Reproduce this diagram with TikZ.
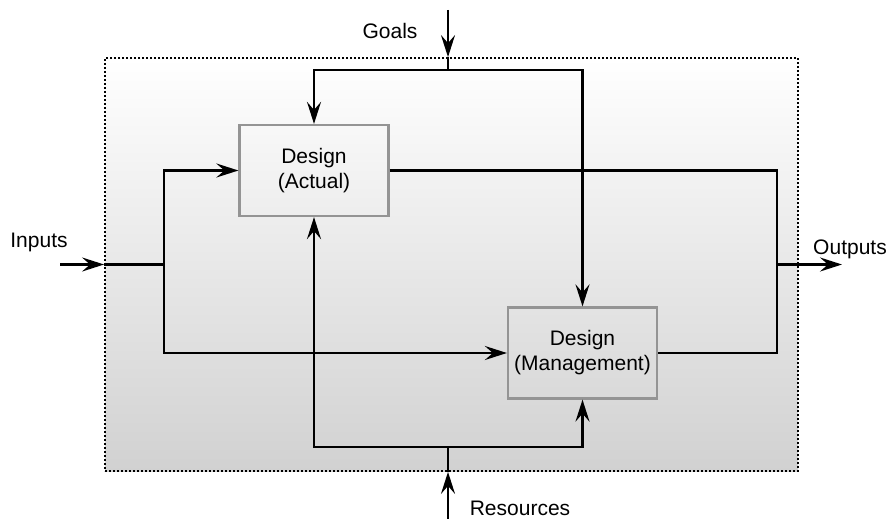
\documentclass[tikz,border=0pt]{standalone}
\usepackage{fontspec}
\setmainfont{Liberation Sans}
\usetikzlibrary{arrows.meta,positioning}

\begin{document}
\begin{tikzpicture}[x=1pt, y=-1pt]
% STYLES
\tikzset{%
    design/.style={%
    rectangle,
    draw=black!42,
    line width=2.2pt,
    minimum width=149pt,
    minimum height=91pt,
    inner sep=0pt,
    align=center,
    font=\fontsize{21}{25}\selectfont}
    }
\tikzset{%
    sysbox/.style={%
    rectangle,
    draw=black,
    line width=1.8pt,
    dash pattern=on 2pt off 2pt,
    top color=white,
    middle color=black!4,
    bottom color=black!18,
    minimum width=693pt,
    minimum height=413pt}
    }
\tikzset{%
    flow/.style={%
    line width=2.4pt,
    >={Stealth[length=22pt,width=14pt,inset=8pt]}},
    lbl/.style={%
    anchor=base,
    font=\fontsize{21}{25}\selectfont}
    }
\useasboundingbox (0,0) rectangle (891,519);

% Draw system and designs
\node [sysbox] (sys) at (451.5,264.5) {};
\node [design] (Actual) at (314,170.5) {Design\\(Actual)};
\node [design] (Mgmt) at (582.5,353) {Design\\(Management)};

% Free ends
\coordinate (in0) at (60,264.5);
\coordinate (split) at (164,264.5);
\coordinate (out1) at (777,264.5);
\coordinate (out0) at (842,264.5);
\coordinate (goal0) at (448,10);
\coordinate (goalsplit) at (448,70);
\coordinate (res0) at (448,519);
\coordinate (ressplit) at (448,447);

% Labels
\node [lbl] (inputs) at (39,247) {Inputs};
\node [lbl] (outputs) at (850,254) {Outputs};
\node [lbl] (goals) at (390,39) {Goals};
\node [lbl] (resources) at (520,515) {Resources};

% Draw the links
\draw[flow,->] (in0) -- (sys.west);
\draw[flow] (sys.west) -- (split);
\draw[flow,->] (split) |- (Actual.west);
\draw[flow,->] (split) |- (Mgmt.west);
\draw[flow] (Actual.east) -| (out1);
\draw[flow] (Mgmt.east) -| (out1);
\draw[flow,->] (out1) -- (out0);

\draw[flow,->] (goal0) -- (goal0 |- sys.north);
\draw[flow] (goal0 |- sys.north) -- (goalsplit);
\draw[flow,->] (goalsplit) -| (Actual.north);
\draw[flow,->] (goalsplit) -| (Mgmt.north);

\draw[flow,->] (res0) -- (res0 |- sys.south);
\draw[flow] (res0 |- sys.south) -- (ressplit);
\draw[flow,->] (ressplit) -| (Actual.south);
\draw[flow,->] (ressplit) -| (Mgmt.south);

\end{tikzpicture}
\end{document}
